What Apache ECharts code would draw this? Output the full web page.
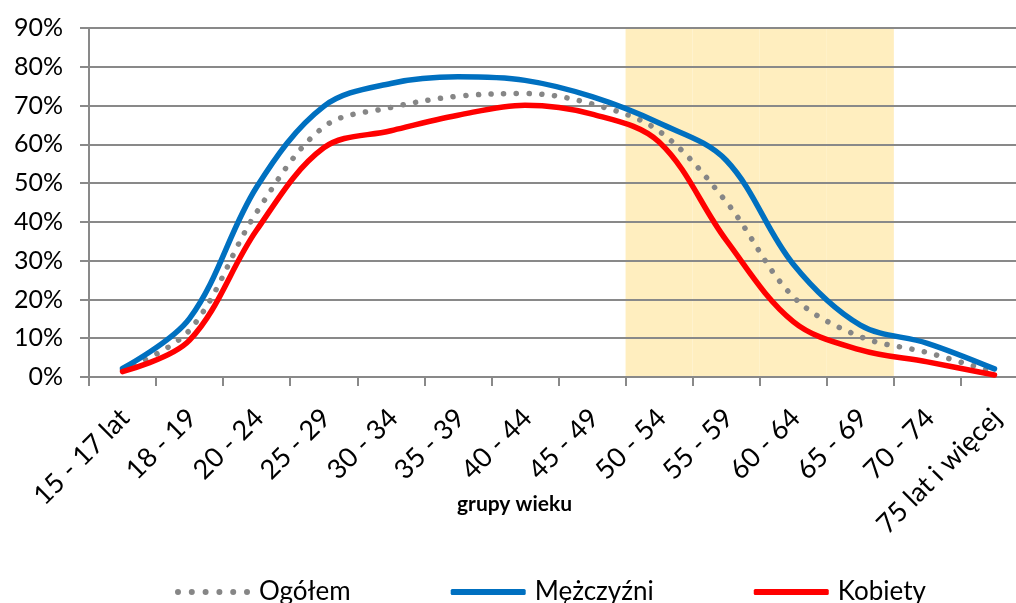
<!DOCTYPE html>
<html>
<head>
<meta charset="utf-8">
<script src="https://cdn.jsdelivr.net/npm/echarts@6/dist/echarts.min.js"></script>
<style>html,body{margin:0;padding:0;background:#fff;overflow:hidden;}#c{width:1016px;height:603px;}</style>
</head>
<body>
<div id="c"></div>
<script>
const categories = ['15 - 17 lat','18 - 19','20 - 24','25 - 29','30 - 34','35 - 39','40 - 44','45 - 49','50 - 54','55 - 59','60 - 64','65 - 69','70 - 74','75 lat i więcej'];
const ogolem    = [1.8, 12.1, 42.5, 64.5, 69.5, 72.4, 73.1, 70.4, 63.4, 45.2, 20.7, 10.4, 6.3, 1.2];
const mezczyzni = [2.2, 15.1, 49.0, 69.8, 75.7, 77.4, 76.5, 72.3, 65.5, 55.9, 29.1, 13.4, 8.7, 2.1];
const kobiety   = [1.4, 9.5, 37.9, 59.1, 63.5, 67.5, 70.1, 67.8, 60.6, 35.3, 14.3, 7.0, 3.9, 0.5];
const shadedGroups = ['50 - 54','55 - 59','60 - 64','65 - 69'];
const yTicks = [0, 10, 20, 30, 40, 50, 60, 70, 80, 90];

const FONT = 'Lato';
const shade = categories.map(c => shadedGroups.includes(c) ? yTicks[yTicks.length-1] : '-');

// legend icon: six round dots for the dotted series
let dots = '';
for (let i = 0; i < 6; i++) {
  const x = i * 13.8;
  dots += 'M' + x + ',3 a3,3 0 1,0 6,0 a3,3 0 1,0 -6,0 Z ';
}
const dotIcon = 'path://' + dots;

const chart = echarts.init(document.getElementById('c'));
chart.setOption({
  animation: false,
  textStyle: { fontFamily: FONT },
  grid: { left: 89, top: 28, width: 939, height: 349, containLabel: false, outerBoundsMode: 'none' },
  legend: {
    data: [
      { name: 'Ogółem', icon: dotIcon, itemStyle: { color: '#868686' } },
      { name: 'Mężczyźni', icon: 'roundRect', itemStyle: { color: '#0070C0' } },
      { name: 'Kobiety', icon: 'roundRect', itemStyle: { color: '#FF0000' } }
    ],
    left: 170, top: 574,
    itemWidth: 75, itemHeight: 6, itemGap: 100,
    textStyle: { fontFamily: FONT, fontSize: 26, color: '#000', padding: [0,0,0,4] }
  },
  xAxis: {
    type: 'category',
    data: categories,
    boundaryGap: true,
    name: 'grupy wieku',
    nameLocation: 'middle',
    nameGap: 117,
    nameMoveOverlap: false,
    nameTextStyle: { fontFamily: FONT, fontWeight: 'bold', fontSize: 21, color: '#000', padding: [0, 88, 0, 0] },
    axisLine: { show: true, lineStyle: { color: '#898989', width: 2 } },
    axisTick: { show: true, length: 9, interval: 0, lineStyle: { color: '#898989', width: 2 } },
    axisLabel: { interval: 0, rotate: 45, fontSize: 27, color: '#000', margin: 20, verticalAlign: 'top', padding: [0, 10, 0, 0], fontFamily: FONT }
  },
  yAxis: {
    type: 'value',
    min: yTicks[0], max: yTicks[yTicks.length-1], interval: 10,
    axisLine: { show: true, lineStyle: { color: '#898989', width: 2 } },
    axisTick: { show: true, length: 9, lineStyle: { color: '#898989', width: 2 } },
    axisLabel: { formatter: '{value}%', fontSize: 25, color: '#000', margin: 26, fontFamily: FONT },
    splitLine: { show: true, lineStyle: { color: '#898989', width: 2 } }
  },
  series: [
    {
      name: 'shade', type: 'bar', data: shade, barCategoryGap: '0%', barWidth: '100%',
      itemStyle: { color: '#FFEEBF' }, silent: true, z: -1, legendHoverLink: false
    },
    {
      name: 'Ogółem', type: 'line', data: ogolem, smooth: 0.35, showSymbol: false, symbol: 'none',
      lineStyle: { color: '#868686', width: 5.5, type: [0.1, 12.6], cap: 'round' },
      itemStyle: { color: '#868686' }, z: 3
    },
    {
      name: 'Mężczyźni', type: 'line', data: mezczyzni, smooth: 0.35, showSymbol: false, symbol: 'none',
      lineStyle: { color: '#0070C0', width: 5.5, cap: 'round' }, itemStyle: { color: '#0070C0' }, z: 4
    },
    {
      name: 'Kobiety', type: 'line', data: kobiety, smooth: 0.35, showSymbol: false, symbol: 'none',
      lineStyle: { color: '#FF0000', width: 5.5, cap: 'round' }, itemStyle: { color: '#FF0000' }, z: 5
    }
  ]
});
</script>
</body>
</html>
